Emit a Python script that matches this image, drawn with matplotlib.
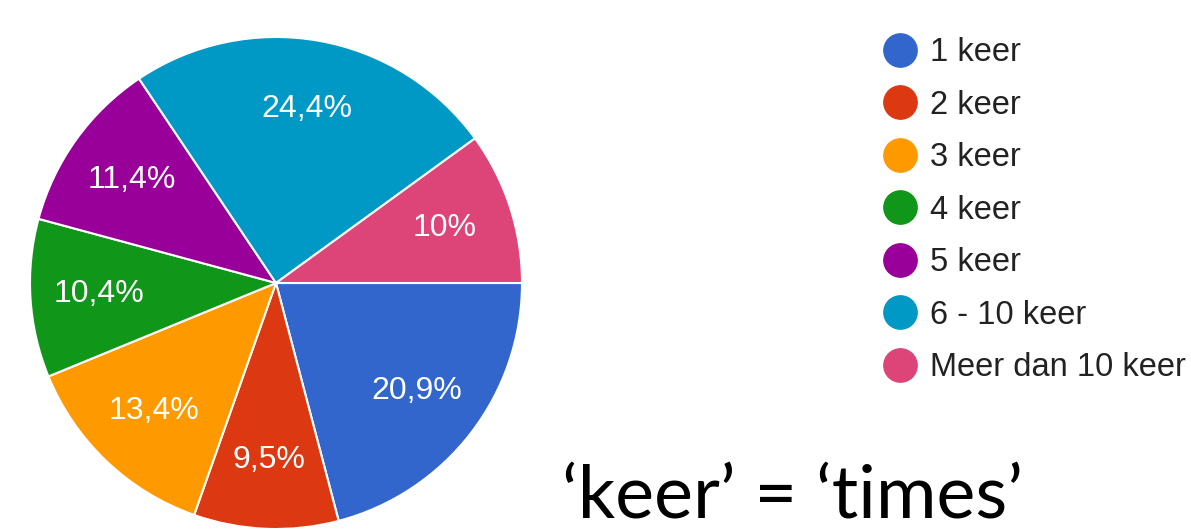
import numpy as np
import matplotlib.pyplot as plt
from matplotlib.lines import Line2D

# data
categories = ['1 keer', '2 keer', '3 keer', '4 keer', '5 keer', '6 - 10 keer', 'Meer dan 10 keer']
values = [20.9, 9.5, 13.4, 10.4, 11.4, 24.4, 10.0]
pct_labels = ['20,9%', '9,5%', '13,4%', '10,4%', '11,4%', '24,4%', '10%']
colors = ['#3366cc', '#dc3912', '#ff9900', '#109618', '#990099', '#0099c6', '#dd4477']

W, H = 1191, 531
fig = plt.figure(figsize=(W / 100, H / 100), dpi=100)

# pie axes: centre (276, 283) px from top-left, radius 246 px
cx, cy, r = 276, 283, 246
ax = fig.add_axes([(cx - r) / W, (H - cy - r) / H, 2 * r / W, 2 * r / H])
wedges, texts = ax.pie(values, colors=colors, startangle=0, counterclock=False,
                       wedgeprops=dict(edgecolor='white', linewidth=1.5))
ax.set_xlim(-1, 1)
ax.set_ylim(-1, 1)
ax.axis('off')

# percentage labels inside wedges
for w, lab in zip(wedges, pct_labels):
    ang = np.deg2rad((w.theta1 + w.theta2) / 2)
    ax.text(0.72 * np.cos(ang), 0.72 * np.sin(ang), lab, ha='center', va='center',
            color='white', fontsize=23, family='Liberation Sans')

# legend
handles = [Line2D([], [], marker='o', linestyle='none', markersize=24,
                  markerfacecolor=c, markeredgecolor=c) for c in colors]
leg = fig.legend(handles, categories, loc='upper left',
                 bbox_to_anchor=(884 / W, 1 - 37 / H), frameon=False,
                 borderaxespad=0, borderpad=0, handlelength=1.0,
                 handletextpad=0.4, labelspacing=0.66,
                 prop=dict(family='Liberation Sans', size=23.5))
for t in leg.get_texts():
    t.set_color('#222222')

fig.text(562 / W, 1 - 517 / H, '\u2018keer\u2019 = \u2018times\u2019', ha='left',
         va='baseline', fontsize=53, family='Lato', color='black')

fig.savefig('out.png', dpi=100)
